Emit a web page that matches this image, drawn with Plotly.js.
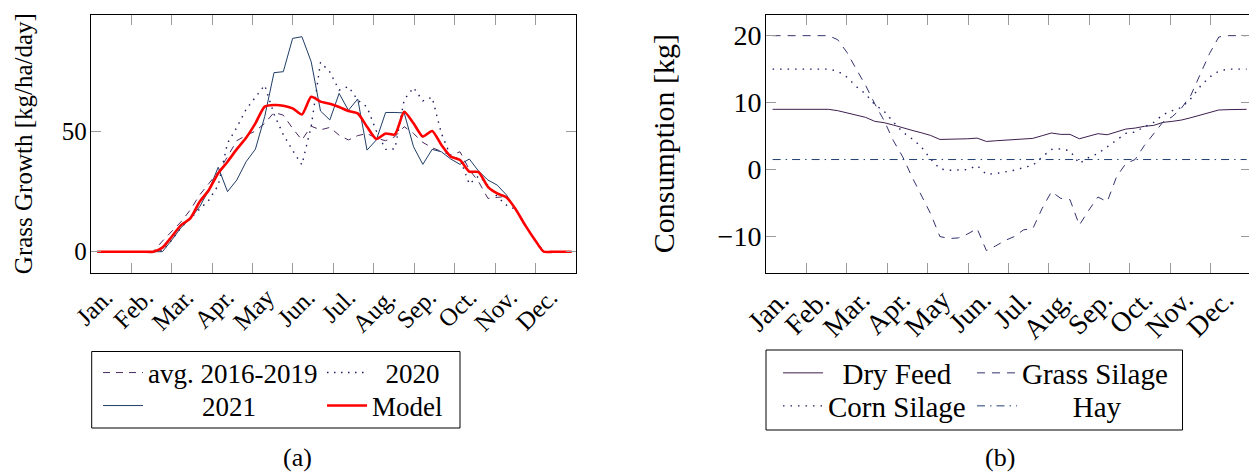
<!DOCTYPE html>
<html><head><meta charset="utf-8">
<script src="https://cdn.plot.ly/plotly-3.0.1.min.js"></script>
<style>html,body{margin:0;padding:0;overflow:hidden;background:#fff}#chart{width:1252px;height:474px}</style>
</head><body><div id="chart"></div>
<script>
// ---------- data ----------
const weeks = [1,2,3,4,5,6,7,8,9,10,11,12,13,14,15,16,17,18,19,20,21,22,23,24,25,26,27,28,29,30,31,32,33,34,35,36,37,38,39,40,41,42,43,44,45,46,47,48,49,50,51,52];
const monthLabels = ['Jan.','Feb.','Mar.','Apr.','May','Jun.','Jul.','Aug.','Sep.','Oct.','Nov.','Dec.'];

// (a) grass growth [kg/ha/day]
const avg2016_2019 = [0,0,0,0,0,0,0,4.4,8.3,12.4,17.3,23.5,28.3,33,39.4,46,48.2,50,53.2,57.7,56.6,51.1,46.3,52,50.5,51.5,48.3,46.3,48.1,49,47,46,47.7,51.8,49,45.3,43.1,41.4,40,41.4,34,29,22.1,22.5,23,17.5,11,5.2,0,0,0,0];
const growth2020 = [0,0,0,0,0,0,0,0.5,4.8,10,13.8,18,21.4,27.5,45,51.5,59,64,69,57,48.5,42,36,52,78.5,74.5,67,68.4,62.8,60,50,42.4,42.6,63,68,62.5,64,49,39.5,38.5,28,31.4,27.6,22.8,19.3,17.5,11,5.2,0,0,0,0];
const growth2021 = [0,0,0,0,0,0,0,0,4.8,10,13.8,18.6,25.6,35,24.9,29.7,37.3,42.5,56,74.2,74.6,88.4,89.1,78.7,58.3,54.6,65.6,58.6,63.3,42.1,46.3,57.7,57.7,57.5,43.5,36.2,42.4,41.4,38.4,36.2,38.4,33.4,29.7,27.6,23.5,17.5,11,5.2,0,0,0,0];
const growthModel = [0,0,0,0,0,0,0,1.7,6.2,11,13.8,20.7,25.6,32.5,37.3,42.5,47.2,53.2,60.1,60.8,60.5,59.4,56.9,64.2,62.2,61.3,60,58.3,57.3,51.8,46.7,49,48.6,58,53.2,47.7,50,44.2,39.4,38,33.2,33,26.9,24.2,22.5,17.5,11,5.2,0,0,0,0];

// (b) consumption [kg]
const dryFeed = [9,9,9,9,9,9,9,8.8,8.5,8.1,7.8,7.2,7.0,6.65,6.2,5.86,5.5,5.1,4.5,4.5,4.5,4.6,4.7,4.2,4.3,4.4,4.47,4.6,4.66,5.06,5.46,5.26,5.26,4.6,4.96,5.36,5.2,5.66,6.05,6.2,6.46,6.6,7.05,7.2,7.4,7.75,8.15,8.5,8.9,8.95,9,9];
const grassSilage = [20,20,20,20,20,20,20,19.4,17.5,15,12.6,9.8,7.3,4.3,1.9,-1.1,-3.8,-6.6,-10,-10.3,-10.2,-9.6,-8.8,-12.1,-11.4,-10.6,-10,-9,-8.8,-5.8,-3.3,-4.3,-4.5,-8.3,-6.1,-4.1,-4.8,-1.1,0.9,1.5,3.6,5.4,7.1,7.9,9.2,11.1,14.3,17.3,19.8,20,20,20];
const cornSilage = [15,15,15,15,15,15,15,14.7,13.8,12.4,11.3,9.7,8.7,7.1,5.6,4.6,3.4,1.6,0.1,-0.1,-0.1,0,0.6,-0.7,-0.6,-0.35,-0.1,0.3,0.64,1.9,3.0,3.1,2.8,0.9,1.8,2.4,3.4,4.4,5.4,5.6,6.4,7.05,8.2,8.8,9.3,10.6,12.4,13.8,14.7,15,15,15];
const hay = [1.5,1.5,1.5,1.5,1.5,1.5,1.5,1.5,1.5,1.5,1.5,1.5,1.5,1.5,1.5,1.5,1.5,1.5,1.5,1.5,1.5,1.5,1.5,1.5,1.5,1.5,1.5,1.5,1.5,1.5,1.5,1.5,1.5,1.5,1.5,1.5,1.5,1.5,1.5,1.5,1.5,1.5,1.5,1.5,1.5,1.5,1.5,1.5,1.5,1.5,1.5,1.5];

const yTicksA = [0, 50];
const yTicksB = [-10, 0, 10, 20];
const yTickTextB = ['\u221210', '0', '10', '20'];

// ---------- geometry ----------
const FW = 1252, FH = 474;
const px = v => v / FW;
const py = v => 1 - v / FH;
const W0 = 0.29, W1 = 52.47;
const MW = (W1 - W0) / 12;
const LABEL_SHIFT = -0.6;
const bounds = [], mids = [];
for (let k = 1; k < 12; k++) bounds.push(W0 + k * MW);
for (let k = 0; k < 12; k++) mids.push(W0 + (k + 0.5) * MW + LABEL_SHIFT);

const FAM = 'Liberation Serif, Times New Roman, serif';
const fnt = s => ({family: FAM, size: s, color: '#000'});
const yDom = [py(272.7), py(14.5)];

function tickAxis(dom, anchor) {
  return {domain: dom, range: [W0, W1], anchor: anchor, tickmode: 'array', tickvals: bounds,
    showticklabels: false, ticks: 'inside', ticklen: 10, tickwidth: 1, tickcolor: '#9a9a9a',
    mirror: 'ticks', showline: true, linecolor: '#000', linewidth: 1, showgrid: false, zeroline: false, fixedrange: true};
}
function labelAxis(base, anchor, fs) {
  return {overlaying: base, range: [W0, W1], anchor: anchor, tickmode: 'array', tickvals: mids, ticktext: monthLabels,
    tickangle: -45, ticks: '', showline: false, showgrid: false, zeroline: false, side: 'bottom',
    tickfont: fnt(fs), ticklabelstandoff: 4, fixedrange: true};
}
function valAxis(anchor, range, tv, tt, title, standoff, fs, tfs) {
  const a = {domain: yDom, range: range, anchor: anchor, tickmode: 'array', tickvals: tv,
    ticks: 'inside', ticklen: 10, tickwidth: 1, tickcolor: '#9a9a9a', mirror: 'ticks', showline: true,
    linecolor: '#000', linewidth: 1, showgrid: false, zeroline: false, tickfont: fnt(fs), ticklabelstandoff: -2,
    title: {text: title, font: fnt(tfs), standoff: standoff}, fixedrange: true};
  if (tt) a.ticktext = tt;
  return a;
}

const NB = '\u00a0';
const traces = [
  {x: weeks, y: avg2016_2019, name: 'avg. 2016-2019', xaxis: 'x', yaxis: 'y', legend: 'legend', mode: 'lines',
   line: {color: '#4a2a62', width: 1, dash: '7px,6px'}},
  {x: weeks, y: growth2020, name: NB.repeat(2) + '2020', xaxis: 'x', yaxis: 'y', legend: 'legend2', mode: 'lines',
   line: {color: '#1c1c5c', width: 1.4, dash: '1.5px,5.5px'}},
  {x: weeks, y: growth2021, name: NB.repeat(8) + '2021', xaxis: 'x3', yaxis: 'y', legend: 'legend3', mode: 'lines',
   line: {color: '#1f3d66', width: 1}},
  {x: weeks, y: growthModel, name: 'Model', xaxis: 'x3', yaxis: 'y', legend: 'legend4', mode: 'lines',
   line: {color: '#ff0000', width: 2.6, shape: 'spline', smoothing: 0.6}},

  {x: weeks, y: dryFeed, name: NB.repeat(2) + 'Dry Feed', xaxis: 'x2', yaxis: 'y2', legend: 'legend5', mode: 'lines',
   line: {color: '#3d1f4f', width: 1}},
  {x: weeks, y: grassSilage, name: 'Grass Silage', xaxis: 'x2', yaxis: 'y2', legend: 'legend6', mode: 'lines',
   line: {color: '#33336f', width: 1, dash: '8px,7px'}},
  {x: weeks, y: cornSilage, name: 'Corn Silage', xaxis: 'x4', yaxis: 'y2', legend: 'legend7', mode: 'lines',
   line: {color: '#1f1f66', width: 1.4, dash: '1.5px,6px'}},
  {x: weeks, y: hay, name: NB.repeat(7) + 'Hay', xaxis: 'x4', yaxis: 'y2', legend: 'legend8', mode: 'lines',
   line: {color: '#1f3f70', width: 1, dash: '8px,5px,1.5px,5px'}}
];

function leg(x, y, fs) {
  return {x: px(x), y: py(y), xanchor: 'left', yanchor: 'middle', orientation: 'v', bgcolor: 'rgba(0,0,0,0)',
    borderwidth: 0, font: fnt(fs), itemwidth: 40, tracegroupgap: 0, itemclick: false, itemdoubleclick: false};
}
const R1 = 373, R2 = 406;

const layout = {
  width: FW, height: FH, margin: {l: 0, r: 0, t: 0, b: 0}, paper_bgcolor: '#fff', plot_bgcolor: '#fff',
  font: fnt(25), showlegend: true,
  xaxis: tickAxis([px(90.7), px(576)], 'y'),
  xaxis2: tickAxis([px(766), px(1251)], 'y2'),
  xaxis3: labelAxis('x', 'y', 25),
  xaxis4: labelAxis('x2', 'y2', 28),
  yaxis: valAxis('x', [-8.7, 98.3], yTicksA, null, 'Grass Growth [kg/ha/day]', 21, 25, 25),
  yaxis2: valAxis('x2', [-15.4, 23.16], yTicksB, yTickTextB, 'Consumption [kg]', 34, 28, 30),
  legend: leg(98, R1, 27), legend2: leg(322, R1, 27), legend3: leg(98, R2, 27), legend4: leg(322, R2, 27),
  legend5: leg(778, R1, 29), legend6: leg(972, R1, 29), legend7: leg(778, R2, 29), legend8: leg(972, R2, 29),
  shapes: [
    {type: 'rect', xref: 'paper', yref: 'paper', x0: px(91.7), x1: px(460), y0: py(428), y1: py(351.5), line: {color: '#000', width: 1}},
    {type: 'rect', xref: 'paper', yref: 'paper', x0: px(766), x1: px(1182.5), y0: py(430), y1: py(350), line: {color: '#000', width: 1}}
  ],
  annotations: [
    {text: '(a)', xref: 'paper', yref: 'paper', x: px(297), y: 0, showarrow: false, font: fnt(26), xanchor: 'center', yanchor: 'bottom'},
    {text: '(b)', xref: 'paper', yref: 'paper', x: px(1000), y: 0, showarrow: false, font: fnt(26), xanchor: 'center', yanchor: 'bottom'}
  ]
};

Plotly.newPlot('chart', traces, layout, {displayModeBar: false, staticPlot: true});
</script>
</body></html>
